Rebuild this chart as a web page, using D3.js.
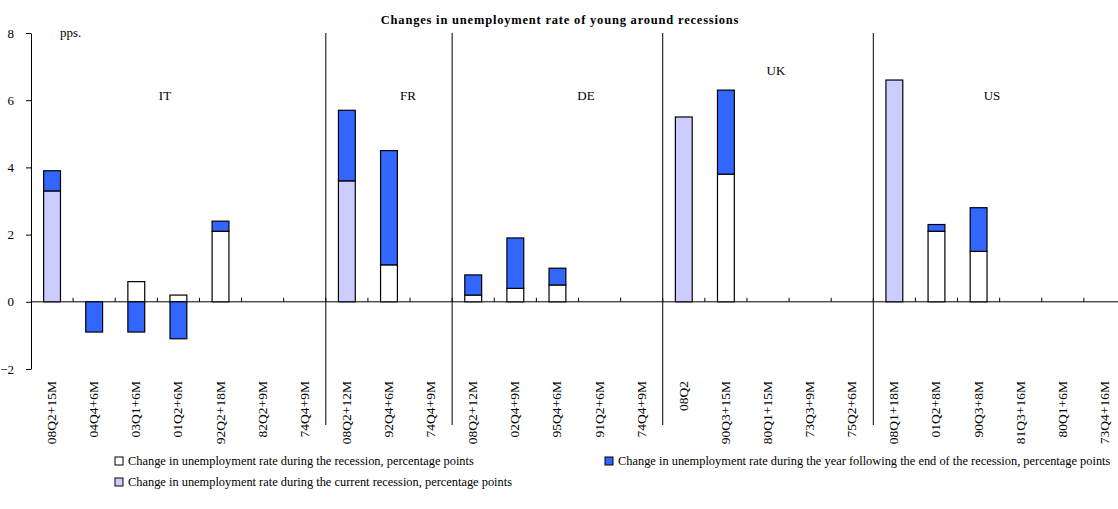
<!DOCTYPE html>
<html><head><meta charset="utf-8">
<script src="https://cdn.jsdelivr.net/npm/d3@7"></script>
<style>body{margin:0;background:#fff}</style>
</head><body>
<script>
// data
var groups = ["IT","FR","DE","UK","US"];
var categories = [
  ["IT","08Q2+15M"],["IT","04Q4+6M"],["IT","03Q1+6M"],["IT","01Q2+6M"],["IT","92Q2+18M"],["IT","82Q2+9M"],["IT","74Q4+9M"],
  ["FR","08Q2+12M"],["FR","92Q4+6M"],["FR","74Q4+9M"],
  ["DE","08Q2+12M"],["DE","02Q4+9M"],["DE","95Q4+6M"],["DE","91Q2+6M"],["DE","74Q4+9M"],
  ["UK","08Q2"],["UK","90Q3+15M"],["UK","80Q1+15M"],["UK","73Q3+9M"],["UK","75Q2+6M"],
  ["US","08Q1+18M"],["US","01Q2+8M"],["US","90Q3+8M"],["US","81Q3+16M"],["US","80Q1+6M"],["US","73Q4+16M"]
];
var during  = [0,0,0.6,0.2,2.1,0,0, 0,1.1,0, 0.2,0.4,0.5,0,0, 0,3.8,0,0,0, 0,2.1,1.5,0,0,0];
var after   = [0.6,-0.9,-0.9,-1.1,0.3,0,0, 2.1,3.4,0, 0.6,1.5,0.5,0,0, 0,2.5,0,0,0, 0,0.2,1.3,0,0,0];
var current = [3.3,0,0,0,0,0,0, 3.6,0,0, 0,0,0,0,0, 5.5,0,0,0,0, 6.6,0,0,0,0,0];
var yTicks = [-2,0,2,4,6,8];
var groupLabelPos = {IT:[165,100],FR:[408,100],DE:[586,100],UK:[776,75],US:[992,100]};
var legendText = [
  "Change in unemployment rate during the recession, percentage points",
  "Change in unemployment rate during the year following the end of the recession, percentage points",
  "Change in unemployment rate during the current recession, percentage points"
];
var colDuring = "#ffffff", colAfter = "#3366ff", colCurrent = "#ccccff";
var FONT = "'Liberation Serif', 'Times New Roman', serif";

var svg = d3.select("body").append("svg").attr("width",1118).attr("height",509)
  .attr("font-family",FONT);
var x = d3.scaleBand().domain(d3.range(categories.length)).range([31,1126]);
var y = d3.scaleLinear().domain([-2,8]).range([369,33]);
var bw = x.bandwidth()*0.4;

svg.append("text").attr("x",560).attr("y",24).attr("text-anchor","middle")
  .attr("font-weight","bold").attr("font-size",12.5).attr("letter-spacing",0.8)
  .text("Changes in unemployment rate of young around recessions");
svg.append("text").attr("x",60).attr("y",37).attr("font-size",13).text("pps.");

// y axis
var ya = svg.append("g").attr("transform","translate(31,0)")
  .call(d3.axisLeft(y).tickValues(yTicks).tickSize(5).tickSizeOuter(0));
ya.attr("font-family",FONT).attr("font-size",13);
ya.selectAll("text").attr("x",-17);

// zero line + ticks
svg.append("line").attr("x1",31).attr("x2",1118).attr("y1",y(0)).attr("y2",y(0)).attr("stroke","#000");
svg.selectAll(".xt").data(d3.range(categories.length)).enter().append("line")
  .attr("x1",function(i){return x(i)+x.step();}).attr("x2",function(i){return x(i)+x.step();})
  .attr("y1",y(0)-4).attr("y2",y(0)).attr("stroke","#000");

// separators
var sep = [];
categories.forEach(function(c,i){ if(i>0 && c[0]!==categories[i-1][0]) sep.push(i); });
svg.selectAll(".sep").data(sep).enter().append("line")
  .attr("x1",function(i){return x(i);}).attr("x2",function(i){return x(i);})
  .attr("y1",33).attr("y2",425).attr("stroke","#000");

groups.forEach(function(g){
  svg.append("text").attr("x",groupLabelPos[g][0]).attr("y",groupLabelPos[g][1])
    .attr("text-anchor","middle").attr("font-size",13).text(g);
});

function bar(v0,v1,fill,i){
  svg.append("rect").attr("x",x(i)+x.bandwidth()/2-bw/2).attr("width",bw)
    .attr("y",y(Math.max(v0,v1))).attr("height",Math.abs(y(v0)-y(v1)))
    .attr("fill",fill).attr("stroke","#000").attr("stroke-width",1.2);
}
categories.forEach(function(c,i){
  if(current[i]) bar(0,current[i],colCurrent,i);
  if(during[i]) bar(0,during[i],colDuring,i);
  if(after[i]){
    var base = after[i]>0 ? during[i]+current[i] : 0;
    bar(base,base+after[i],colAfter,i);
  }
});

// x labels
svg.selectAll(".xl").data(categories).enter().append("text")
  .attr("transform",function(d,i){return "translate("+(x(i)+x.bandwidth()/2+4)+",381) rotate(-90)";})
  .attr("text-anchor","end").attr("font-size",13.5).text(function(d){return d[1];});

// legend
var leg = [[115,465,colDuring,0],[605,465,colAfter,1],[115,486,colCurrent,2]];
leg.forEach(function(l){
  svg.append("rect").attr("x",l[0]).attr("y",l[1]-8).attr("width",8).attr("height",8)
    .attr("fill",l[2]).attr("stroke","#000");
  svg.append("text").attr("x",l[0]+13).attr("y",l[1]).attr("font-size",12.4).text(legendText[l[3]]);
});
</script>
</body></html>
